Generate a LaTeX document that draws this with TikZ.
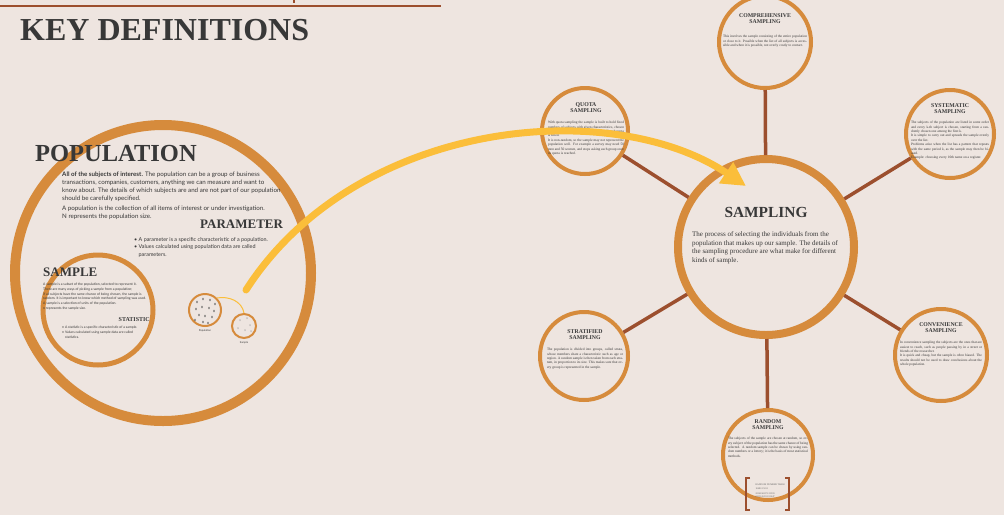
\documentclass[tikz,border=0pt]{standalone}
\usepackage{fontspec}
\setmainfont{Liberation Serif}
\newfontfamily\lato{Lato}
\usetikzlibrary{arrows.meta}
\definecolor{paper}{HTML}{EEE5E0}
\definecolor{ring}{HTML}{D68B3C}
\definecolor{spoke}{HTML}{9C4F2E}
\definecolor{hl}{HTML}{FBBE3A}
\definecolor{ink}{HTML}{383838}
\definecolor{dotc}{HTML}{4A4A4A}

\tikzset{
  ringnode/.style={circle, draw=ring, inner sep=0pt},
  satellite/.style={ringnode, line width=4pt, minimum size=#1},
  spokeline/.style={draw=spoke, line width=3.5pt},
  title/.style={font=\bfseries\fontsize{#1}{#1}\selectfont, text=ink, inner sep=0pt},
  body/.style 2 args={font=\lato\fontsize{#1}{#2}\selectfont, text=ink, inner sep=0pt, align=left},
  sathead/.style={font=\bfseries\fontsize{5.8}{6.8}\selectfont, text=ink, align=center, inner sep=0pt},
  satbody/.style={font=\fontsize{3.5}{4.4}\selectfont, text=ink, align=justify, inner sep=0pt, text width=#1}
}

\begin{document}
\begin{tikzpicture}[x=1pt,y=-1pt]
\fill[paper] (0,0) rectangle (1004,515);
\useasboundingbox (0,0) rectangle (1004,515);

% header rule
\draw[spoke, line width=2.5pt] (0,6) -- (441,6);
\draw[spoke, line width=2.5pt] (294,0) -- (294,2.5);

\node[title=32, anchor=north west] (keydef) at (20,19) {KEY DEFINITIONS};

% ---------- population ----------
\node[ringnode, line width=10pt, minimum size=296pt] (popring) at (163,273) {};
\node[title=24.5, anchor=north west] (pophead) at (35,145) {POPULATION};
\node[body={6.2}{8}, anchor=north west] (poptext) at (62,172)
  {\textbf{All of the subjects of interest.} The population can be a group of business\\
   transactions, companies, customers, anything we can measure and want to\\
   know about. The details of which subjects are and are not part of our population\\
   should be carefully specified.\\[1.5pt]
   A population is the collection of all items of interest or under investigation.\\
   N represents the population size.};

\node[title=13, anchor=north west] (parhead) at (200,220) {PARAMETER};
\node[body={5.4}{7.5}, anchor=north west] (partext) at (134,237)
  {\textbullet\ A parameter is a specific characteristic of a population.\\
   \textbullet\ Values calculated using population data are called\\
   \hspace*{4.5pt}parameters.};

% ---------- sample ----------
\node[ringnode, line width=5pt, minimum size=110pt] (samplering) at (98,310) {};
\node[title=13, anchor=north west] (samphead) at (43,268) {SAMPLE};
\node[body={3.4}{4.7}, anchor=north west] (samptext) at (43,283)
  {A sample is a subset of the population, selected to represent it.\\
   There are many ways of picking a sample from a population;\\
   if all subjects have the same chance of being chosen, the sample is\\
   random. It is important to know which method of sampling was used.\\
   A sample is a selection of units of the population.\\
   n represents the sample size.};
\node[title=6, anchor=north east] (stathead) at (150,317) {STATISTIC};
\node[body={3.4}{4.7}, anchor=north west] (stattext) at (62,326)
  {\textbullet\ A statistic is a specific characteristic of a sample.\\
   \textbullet\ Values calculated using sample data are called\\
   \hspace*{3pt}statistics.};

% population and sample icons
\node[ringnode, line width=2pt, minimum size=32pt] (popicon) at (205,310) {};
\node[ringnode, line width=2pt, minimum size=24pt] (sampicon) at (244,326) {};
\foreach \px/\py in {197/302,203/299,210/300,215/304,196/309,202/307,209/308,
                     214/311,199/315,205/316,212/317,203/322,195/320,208/323}
  \fill[dotc] (\px,\py) ellipse (0.7pt and 1.3pt);
\foreach \px/\py in {240/320,247/318,250/325,238/328,245/330,251/331}
  \fill[dotc!60] (\px,\py) ellipse (0.5pt and 1pt);
\node[font=\lato\fontsize{2.6}{3}\selectfont, text=ink] (poplab) at (205,331) {Population};
\node[font=\lato\fontsize{2.6}{3}\selectfont, text=ink] (samplab) at (244,343) {Sample};
\draw[hl, line width=1pt] (popicon.north east) to[out=10, in=100] (sampicon.north);

% ---------- sampling hub ----------
\node[ringnode, line width=8pt, minimum size=176pt] (sampling) at (766,247) {};
\node[title=15.4, anchor=north] (samplinghead) at (766,207) {SAMPLING};
\node[font=\fontsize{7}{8.9}\selectfont, text=ink, inner sep=0pt, align=left,
      anchor=north west] (samplingtext) at (692,231)
  {The process of selecting the individuals from the\\
   population that makes up our sample. The details of\\
   the sampling procedure are what make for different\\
   kinds of sample.};

% satellites
\node[satellite=92pt] (comp) at (765,42) {};
\node[satellite=86pt] (quota) at (585,131) {};
\node[satellite=88pt] (syst) at (950,134) {};
\node[satellite=88pt] (strat) at (584,356) {};
\node[satellite=92pt] (conv) at (941,355) {};
\node[satellite=90pt] (rand) at (768,455) {};

% spokes
\foreach \s in {comp,quota,syst,strat,conv,rand}
  \draw[spokeline] (\s) -- (sampling);

% satellite texts
\node[sathead, anchor=north] (comph) at (765,13) {COMPREHENSIVE\\SAMPLING};
\node[satbody=84pt, anchor=north] (compt) at (765,35)
  {This involves the sample consisting of the entire population or close to it.
   Possible when the list of all subjects is accessible and when it
   is possible, not overly costly to contact.};

\node[sathead, anchor=north] (quotah) at (586,102) {QUOTA\\SAMPLING};
\node[satbody=76pt, anchor=north] (quotat) at (586,121)
  {With quota sampling the sample is built to hold fixed numbers of subjects
   with given characteristics, chosen by the researcher. Subjects are
   selected until each quota is filled.\par
   It is non-random, so the sample may not represent the population well.
   For example a survey may need 50 men and 50 women, and stops asking
   each group once its quota is reached.};

\node[sathead, anchor=north] (systh) at (950,103) {SYSTEMATIC\\SAMPLING};
\node[satbody=78pt, anchor=north] (systt) at (950,121)
  {The subjects of the population are listed in some order and every k-th
   subject is chosen, starting from a randomly chosen one among the first k.\par
   It is simple to carry out and spreads the sample evenly over the list.\par
   Problems arise when the list has a pattern that repeats with the same
   period k, as the sample may then be biased.\par
   Example: choosing every 10th name on a register.};

\node[sathead, anchor=north] (strath) at (585,329) {STRATIFIED\\SAMPLING};
\node[satbody=76pt, anchor=north] (stratt) at (585,348)
  {The population is divided into groups, called strata, whose members
   share a characteristic such as age or region. A random sample is
   then taken from each stratum, in proportion to its size. This makes
   sure that every group is represented in the sample.};

\node[sathead, anchor=north] (convh) at (941,322) {CONVENIENCE\\SAMPLING};
\node[satbody=82pt, anchor=north] (convt) at (941,341)
  {In convenience sampling the subjects are the ones that are easiest to
   reach, such as people passing by in a street or friends of the researcher.\par
   It is quick and cheap, but the sample is often biased. The results
   should not be used to draw conclusions about the whole population.};

\node[sathead, anchor=north] (randh) at (768,419) {RANDOM\\SAMPLING};
\node[satbody=80pt, anchor=north] (randt) at (768,437)
  {The subjects of the sample are chosen at random,
   so every subject of the population has the same chance of
   being selected. A random sample can be drawn by using
   random numbers or a lottery; it is the basis of
   most statistical methods.};

% random number table in brackets
\coordinate (brl) at (746,478);
\coordinate (brr) at (789,478);
\draw[spoke, line width=2pt] ([xshift=4pt]brl) -- (brl) -- ++(0,32) -- ++(4,0);
\draw[spoke, line width=2pt] ([xshift=-4pt]brr) -- (brr) -- ++(0,32) -- ++(-4,0);
\node[font=\fontsize{2.4}{3.6}\selectfont, text=ink!80, align=left, anchor=north west]
  (randtab) at (752,480) {RANDOM NUMBER TABLE\\[1pt]10480 15011\\[1pt]22368 46573 25595\\01536 02011 81647};

% ---------- highlighted arrow ----------
\coordinate (arrstart) at (246,290);
\coordinate (arrend) at (746,186);
\draw[hl, line width=7pt, line cap=round,
      -{Triangle[length=24pt, width=24pt]}]
  (arrstart) .. controls (355,120) and (610,95) .. (arrend);
\end{tikzpicture}
\end{document}
